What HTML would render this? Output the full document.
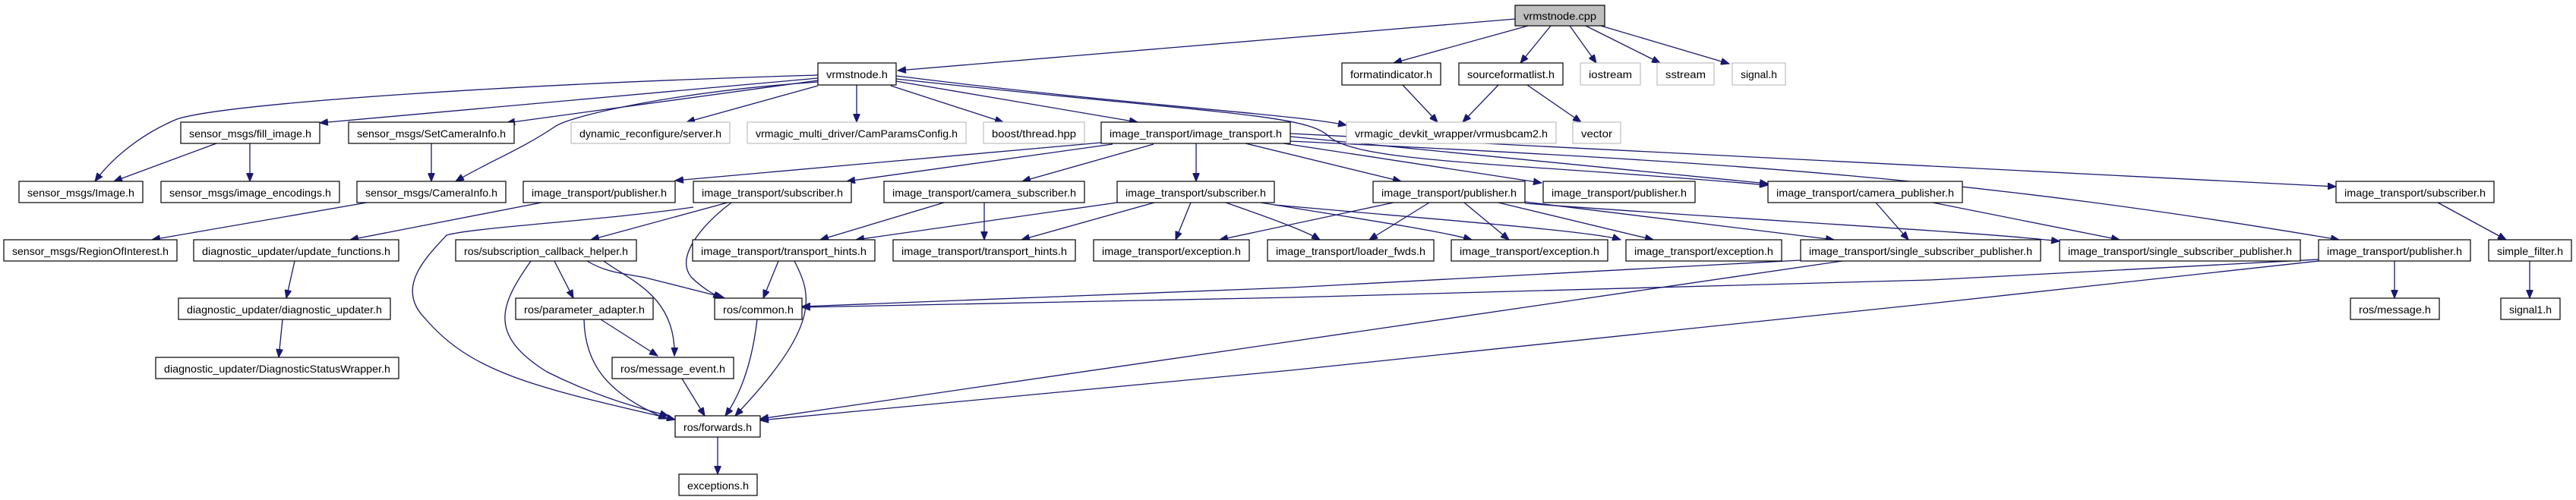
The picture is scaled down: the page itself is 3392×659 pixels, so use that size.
<!DOCTYPE html>
<html><head><meta charset="utf-8"><style>
html,body{margin:0;padding:0;background:#fff;}
svg{display:block;}
text{font-family:"Liberation Sans",sans-serif;font-size:14px;fill:#000;}
.n{fill:#fff;stroke:#000;stroke-width:1.2;}
.g{fill:#fff;stroke:#bfbfbf;stroke-width:1.2;}
.e{fill:none;stroke:#191970;stroke-width:1.3;marker-end:url(#a);}
</style></head><body>
<svg width="3392" height="659" viewBox="0 0 3392 659" xmlns="http://www.w3.org/2000/svg">
<defs><marker id="a" markerUnits="userSpaceOnUse" markerWidth="12" markerHeight="9" refX="11" refY="4.5" orient="auto"><path d="M0,0 L11,4.5 L0,9 z" fill="#191970" stroke="#191970"/></marker></defs>
<g>
<path class="e" d="M1995,25 L1182,93"/>
<path class="e" d="M2012,34 L1835,83"/>
<path class="e" d="M2042,34 L2002,83"/>
<path class="e" d="M2067,34 L2102,83"/>
<path class="e" d="M2088,34 L2186,83"/>
<path class="e" d="M2108,34 L2277,84"/>
<path class="e" d="M1077,99 C700,110 300,135 233,157 C190,175 150,205 125,239"/>
<path class="e" d="M1077,103 L421,162"/>
<path class="e" d="M1077,106 L667,162"/>
<path class="e" d="M1077,108 C900,120 760,150 732,166 C690,195 640,215 600,239"/>
<path class="e" d="M1077,113 L904,161"/>
<path class="e" d="M1128,112 L1128,161"/>
<path class="e" d="M1173,113 L1321,161"/>
<path class="e" d="M1180,107 L1498,161"/>
<path class="e" d="M1180,100 C1500,140 1700,150 1773,165"/>
<path class="e" d="M1180,104 C1600,150 1720,150 1750,180 C1790,215 2000,215 2328,244"/>
<path class="e" d="M285,189 L150,239"/>
<path class="e" d="M329,189 L329,239"/>
<path class="e" d="M568,189 L568,239"/>
<path class="e" d="M483,267 L200,316"/>
<path class="e" d="M1847,112 L1893,161"/>
<path class="e" d="M1973,112 L1926,161"/>
<path class="e" d="M2011,112 L2082,161"/>
<path class="e" d="M1450,188 L889,238"/>
<path class="e" d="M1465,190 L1115,239"/>
<path class="e" d="M1519,190 L1346,239"/>
<path class="e" d="M1575,189 L1575,239"/>
<path class="e" d="M1640,189 L1845,239"/>
<path class="e" d="M1690,189 L2030,241"/>
<path class="e" d="M1699,180 L2328,242"/>
<path class="e" d="M1699,176 Q2500,215 3076,246"/>
<path class="e" d="M1699,186 C2300,215 2600,235 3080,316"/>
<path class="e" d="M713,267 L461,316"/>
<path class="e" d="M913,273 C800,290 620,300 588,310 C560,340 520,380 560,420 C620,490 700,510 889,553"/>
<path class="e" d="M958,267 L778,316"/>
<path class="e" d="M963,267 C920,300 890,340 910,365 C925,380 940,388 950,393"/>
<path class="e" d="M1243,267 L1080,316"/>
<path class="e" d="M1296,267 L1296,316"/>
<path class="e" d="M1471,267 L1127,316"/>
<path class="e" d="M1520,267 L1345,316"/>
<path class="e" d="M1568,267 L1548,316"/>
<path class="e" d="M1614,267 C1680,290 1720,305 1738,316"/>
<path class="e" d="M1660,267 C1800,290 1900,305 1938,316"/>
<path class="e" d="M1678,270 C1900,290 2100,305 2134,316"/>
<path class="e" d="M1835,267 L1606,316"/>
<path class="e" d="M1882,267 L1803,316"/>
<path class="e" d="M1928,267 L1987,316"/>
<path class="e" d="M1973,267 L2177,316"/>
<path class="e" d="M2008,266 L2415,316"/>
<path class="e" d="M2008,268 C2300,290 2600,305 2712,318"/>
<path class="e" d="M2470,267 L2513,316"/>
<path class="e" d="M2545,267 L2791,316"/>
<path class="e" d="M3210,267 L3300,316"/>
<path class="e" d="M3331,344 L3331,393"/>
<path class="e" d="M3153,344 L3153,393"/>
<path class="e" d="M3053,342 L2542,369 L1700,392 L1056,405"/>
<path class="e" d="M3053,344 L2542,400 L1700,488 L1001,554"/>
<path class="e" d="M2371,343 L1700,379 L1056,404"/>
<path class="e" d="M2426,344 L1700,450 L1001,552"/>
<path class="e" d="M1025,344 L1005,393"/>
<path class="e" d="M1046,344 C1070,390 1080,430 968,548"/>
<path class="e" d="M730,344 L755,393"/>
<path class="e" d="M773,344 C800,360 820,360 850,366 L953,392"/>
<path class="e" d="M795,344 C830,370 890,390 888,469"/>
<path class="e" d="M699,344 C660,400 640,440 720,490 C780,520 830,535 880,548"/>
<path class="e" d="M791,421 L866,469"/>
<path class="e" d="M769,421 C770,480 800,520 878,552"/>
<path class="e" d="M997,421 C990,480 975,520 955,548"/>
<path class="e" d="M898,499 L928,548"/>
<path class="e" d="M945,576 L945,625"/>
<path class="e" d="M388,344 L377,393"/>
<path class="e" d="M372,421 L367,471"/>
</g>
<g text-anchor="middle">
<rect x="1995" y="7" width="118" height="27" fill="#bfbfbf" stroke="#000" stroke-width="1.2"/><text x="2054" y="26" textLength="96" lengthAdjust="spacingAndGlyphs">vrmstnode.cpp</text>

<rect class="n" x="1077" y="83" width="103" height="29"/><text x="1128.5" y="103" textLength="81" lengthAdjust="spacingAndGlyphs">vrmstnode.h</text>
<rect class="n" x="1767" y="83" width="130" height="29"/><text x="1832" y="103" textLength="108" lengthAdjust="spacingAndGlyphs">formatindicator.h</text>
<rect class="n" x="1921" y="83" width="137" height="29"/><text x="1989.5" y="103" textLength="115" lengthAdjust="spacingAndGlyphs">sourceformatlist.h</text>
<rect class="g" x="2081" y="83" width="79" height="29"/><text x="2120.5" y="103" textLength="57" lengthAdjust="spacingAndGlyphs">iostream</text>
<rect class="g" x="2182" y="83" width="75" height="29"/><text x="2219.5" y="103" textLength="53" lengthAdjust="spacingAndGlyphs">sstream</text>
<rect class="g" x="2281" y="83" width="70" height="29"/><text x="2316" y="103" textLength="48" lengthAdjust="spacingAndGlyphs">signal.h</text>

<rect class="n" x="238" y="161" width="183" height="28"/><text x="329.5" y="181" textLength="161" lengthAdjust="spacingAndGlyphs">sensor_msgs/fill_image.h</text>
<rect class="n" x="459" y="161" width="218" height="28"/><text x="568" y="181" textLength="196" lengthAdjust="spacingAndGlyphs">sensor_msgs/SetCameraInfo.h</text>
<rect class="g" x="752" y="161" width="209" height="28"/><text x="856.5" y="181" textLength="187" lengthAdjust="spacingAndGlyphs">dynamic_reconfigure/server.h</text>
<rect class="g" x="984" y="161" width="288" height="28"/><text x="1128" y="181" textLength="266" lengthAdjust="spacingAndGlyphs">vrmagic_multi_driver/CamParamsConfig.h</text>
<rect class="g" x="1295" y="161" width="133" height="28"/><text x="1361.5" y="181" textLength="111" lengthAdjust="spacingAndGlyphs">boost/thread.hpp</text>
<rect class="n" x="1450" y="161" width="249" height="28"/><text x="1574.5" y="181" textLength="227" lengthAdjust="spacingAndGlyphs">image_transport/image_transport.h</text>
<rect class="g" x="1773" y="161" width="276" height="28"/><text x="1911" y="181" textLength="254" lengthAdjust="spacingAndGlyphs">vrmagic_devkit_wrapper/vrmusbcam2.h</text>
<rect class="g" x="2071" y="161" width="63" height="28"/><text x="2102.5" y="181" textLength="41" lengthAdjust="spacingAndGlyphs">vector</text>

<rect class="n" x="25" y="239" width="163" height="28"/><text x="106.5" y="259" textLength="141" lengthAdjust="spacingAndGlyphs">sensor_msgs/Image.h</text>
<rect class="n" x="212" y="239" width="235" height="28"/><text x="329.5" y="259" textLength="213" lengthAdjust="spacingAndGlyphs">sensor_msgs/image_encodings.h</text>
<rect class="n" x="470" y="239" width="196" height="28"/><text x="568" y="259" textLength="174" lengthAdjust="spacingAndGlyphs">sensor_msgs/CameraInfo.h</text>
<rect class="n" x="689" y="239" width="200" height="28"/><text x="789" y="259" textLength="178" lengthAdjust="spacingAndGlyphs">image_transport/publisher.h</text>
<rect class="n" x="913" y="239" width="208" height="28"/><text x="1017" y="259" textLength="186" lengthAdjust="spacingAndGlyphs">image_transport/subscriber.h</text>
<rect class="n" x="1164" y="239" width="264" height="28"/><text x="1296" y="259" textLength="242" lengthAdjust="spacingAndGlyphs">image_transport/camera_subscriber.h</text>
<rect class="n" x="1471" y="239" width="207" height="28"/><text x="1574.5" y="259" textLength="185" lengthAdjust="spacingAndGlyphs">image_transport/subscriber.h</text>
<rect class="n" x="1808" y="239" width="200" height="28"/><text x="1908" y="259" textLength="178" lengthAdjust="spacingAndGlyphs">image_transport/publisher.h</text>
<rect class="n" x="2032" y="239" width="200" height="28"/><text x="2132" y="259" textLength="178" lengthAdjust="spacingAndGlyphs">image_transport/publisher.h</text>
<rect class="n" x="2328" y="239" width="256" height="28"/><text x="2456" y="259" textLength="234" lengthAdjust="spacingAndGlyphs">image_transport/camera_publisher.h</text>
<rect class="n" x="3076" y="239" width="208" height="28"/><text x="3180" y="259" textLength="186" lengthAdjust="spacingAndGlyphs">image_transport/subscriber.h</text>

<rect class="n" x="5" y="316" width="228" height="28"/><text x="119" y="336" textLength="206" lengthAdjust="spacingAndGlyphs">sensor_msgs/RegionOfInterest.h</text>
<rect class="n" x="255" y="316" width="270" height="28"/><text x="390" y="336" textLength="248" lengthAdjust="spacingAndGlyphs">diagnostic_updater/update_functions.h</text>
<rect class="n" x="600" y="316" width="238" height="28"/><text x="719" y="336" textLength="216" lengthAdjust="spacingAndGlyphs">ros/subscription_callback_helper.h</text>
<rect class="n" x="912" y="316" width="240" height="28"/><text x="1032" y="336" textLength="218" lengthAdjust="spacingAndGlyphs">image_transport/transport_hints.h</text>
<rect class="n" x="1176" y="316" width="240" height="28"/><text x="1296" y="336" textLength="218" lengthAdjust="spacingAndGlyphs">image_transport/transport_hints.h</text>
<rect class="n" x="1440" y="316" width="205" height="28"/><text x="1542.5" y="336" textLength="183" lengthAdjust="spacingAndGlyphs">image_transport/exception.h</text>
<rect class="n" x="1669" y="316" width="219" height="28"/><text x="1778.5" y="336" textLength="197" lengthAdjust="spacingAndGlyphs">image_transport/loader_fwds.h</text>
<rect class="n" x="1911" y="316" width="206" height="28"/><text x="2014" y="336" textLength="184" lengthAdjust="spacingAndGlyphs">image_transport/exception.h</text>
<rect class="n" x="2141" y="316" width="205" height="28"/><text x="2243.5" y="336" textLength="183" lengthAdjust="spacingAndGlyphs">image_transport/exception.h</text>
<rect class="n" x="2371" y="316" width="316" height="28"/><text x="2529" y="336" textLength="294" lengthAdjust="spacingAndGlyphs">image_transport/single_subscriber_publisher.h</text>
<rect class="n" x="2712" y="316" width="317" height="28"/><text x="2870.5" y="336" textLength="295" lengthAdjust="spacingAndGlyphs">image_transport/single_subscriber_publisher.h</text>
<rect class="n" x="3053" y="316" width="200" height="28"/><text x="3153" y="336" textLength="178" lengthAdjust="spacingAndGlyphs">image_transport/publisher.h</text>
<rect class="n" x="3277" y="316" width="109" height="28"/><text x="3331.5" y="336" textLength="87" lengthAdjust="spacingAndGlyphs">simple_filter.h</text>

<rect class="n" x="235" y="393" width="279" height="28"/><text x="374.5" y="413" textLength="257" lengthAdjust="spacingAndGlyphs">diagnostic_updater/diagnostic_updater.h</text>
<rect class="n" x="679" y="393" width="181" height="28"/><text x="769.5" y="413" textLength="159" lengthAdjust="spacingAndGlyphs">ros/parameter_adapter.h</text>
<rect class="n" x="941" y="393" width="115" height="28"/><text x="998.5" y="413" textLength="93" lengthAdjust="spacingAndGlyphs">ros/common.h</text>
<rect class="n" x="3095" y="393" width="117" height="28"/><text x="3153.5" y="413" textLength="95" lengthAdjust="spacingAndGlyphs">ros/message.h</text>
<rect class="n" x="3293" y="393" width="78" height="28"/><text x="3332" y="413" textLength="56" lengthAdjust="spacingAndGlyphs">signal1.h</text>

<rect class="n" x="205" y="471" width="320" height="28"/><text x="365" y="491" textLength="298" lengthAdjust="spacingAndGlyphs">diagnostic_updater/DiagnosticStatusWrapper.h</text>
<rect class="n" x="806" y="471" width="160" height="28"/><text x="886" y="491" textLength="138" lengthAdjust="spacingAndGlyphs">ros/message_event.h</text>

<rect class="n" x="889" y="548" width="112" height="28"/><text x="945" y="568" textLength="90" lengthAdjust="spacingAndGlyphs">ros/forwards.h</text>
<rect class="n" x="894" y="625" width="103" height="28"/><text x="945.5" y="645" textLength="81" lengthAdjust="spacingAndGlyphs">exceptions.h</text>
</g>
</svg>
</body></html>
